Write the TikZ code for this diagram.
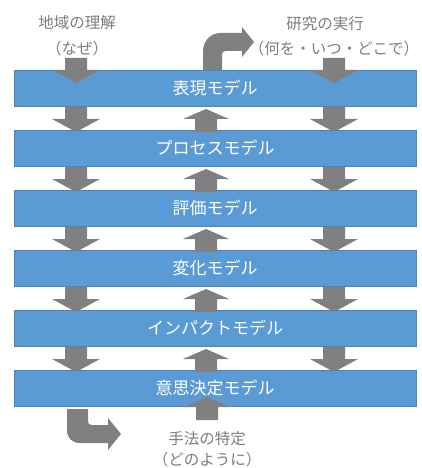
\documentclass[tikz,border=0pt]{standalone}
\usepackage{fontspec}
\setmainfont{Noto Sans CJK JP}
\definecolor{barblue}{HTML}{5B9BD5}
\definecolor{arrowgray}{HTML}{808080}
\definecolor{txtgray}{HTML}{7F7F7F}
\tikzset{
  bar/.style={fill=barblue, draw=barblue!85!black, line width=0.4pt,
    minimum width=402pt, minimum height=36pt, inner sep=0pt,
    text=white, font=\fontsize{17}{20}\selectfont},
  lbl/.style={text=txtgray, font=\fontsize{15.5}{18}\selectfont, inner sep=0pt},
  downblk/.pic={\fill[arrowgray] (-11,0) -- (11,0) -- (11,12) -- (24,12) -- (0,25) -- (-24,12) -- (-11,12) -- cycle;},
  upblk/.pic={\fill[arrowgray] (0,0) -- (23,10) -- (11,10) -- (11,23) -- (-11,23) -- (-11,10) -- (-23,10) -- cycle;}
}
\begin{document}
\begin{tikzpicture}[x=1pt,y=-1pt]
\useasboundingbox (0,0) rectangle (422,468);
\fill[white] (0,0) rectangle (422,468);
% bars
\node[bar] (m1) at (215,88)  {表現モデル};
\node[bar] (m2) at (215,148) {プロセスモデル};
\node[bar] (m3) at (215,208) {評価モデル};
\node[bar] (m4) at (215,268) {変化モデル};
\node[bar] (m5) at (215,328) {インパクトモデル};
\node[bar] (m6) at (215,388) {意思決定モデル};
% labels
\node[lbl] (t1) at (77,23) {地域の理解};
\node[lbl] (t2) at (77,49) {（なぜ）};
\node[lbl] (t3) at (325,24) {研究の実行};
\node[lbl] (t4) at (334,49) {（何を・いつ・どこで）};
\node[lbl] (t5) at (207,439) {手法の特定};
\node[lbl] (t6) at (207,460) {（どのように）};
% top down arrows
\pic at (76,58) {downblk};
\pic at (334,58) {downblk};
% down arrows between bars
\foreach \y in {107,167,227,287,347} {
  \pic at (76,\y) {downblk};
  \pic at (334,\y) {downblk};
}
% up arrows between bars
\foreach \y in {109,169,229,289,349} {
  \pic at (206,\y) {upblk};
}
% bottom up arrow
\pic at (207,397) {upblk};
% top bent arrow
\fill[arrowgray] (203,70) -- (203,52) .. controls (203,41) and (210,33) .. (221,33)
  -- (242,33) -- (242,27) -- (254,42) -- (242,57) -- (242,51) -- (226,51)
  .. controls (223,51) and (222,52) .. (222,55) -- (222,70) -- cycle;
% bottom bent arrow
\fill[arrowgray] (67,409) -- (67,430) .. controls (67,438) and (72,443) .. (80,443)
  -- (108,443) -- (108,450) -- (121,434) -- (108,418) -- (108,425) -- (92,425)
  .. controls (89,425) and (88,424) .. (88,421) -- (88,409) -- cycle;
\end{tikzpicture}
\end{document}
